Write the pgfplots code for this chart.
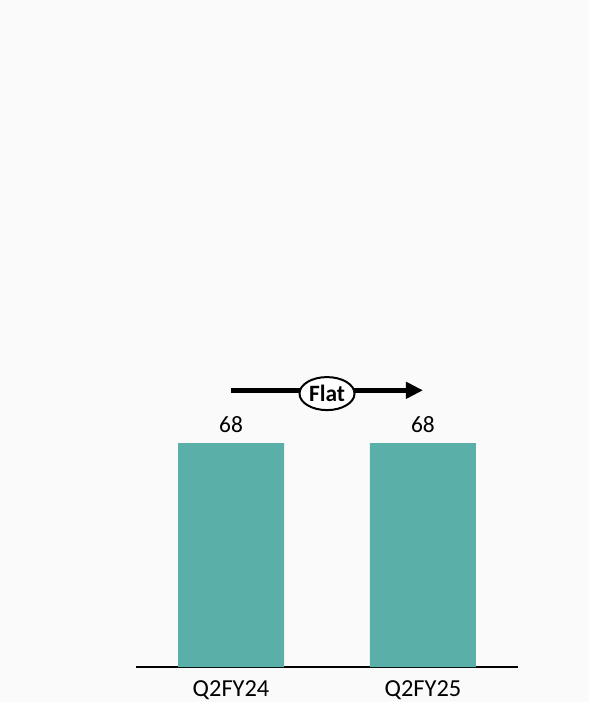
\documentclass[border=0pt]{standalone}
\usepackage{pgfplots}
\pgfplotsset{compat=1.18}
\usepackage{fontspec}
\setmainfont{Carlito}
\usetikzlibrary{arrows.meta,shapes.geometric}

\definecolor{bgcol}{HTML}{FAFAFA}
\definecolor{barcol}{HTML}{5AAFA8}

\begin{document}
\begin{tikzpicture}
    % page background, also fixes the picture size
    \fill[bgcol] (0,0) rectangle (589bp,702bp);
    \begin{axis}[
        at={(136bp,35bp)},
        anchor=south west,
        scale only axis,
        width=382bp,
        height=658.8bp,
        xmin=-0.495, xmax=1.495,
        ymin=0, ymax=200,
        axis x line=bottom,
        axis y line=none,
        x axis line style={-, line width=1.5bp, black},
        xtick=data,
        xticklabels={Q2FY24,Q2FY25},
        major tick length=0pt,
        xticklabel style={inner sep=0pt, anchor=north, yshift=-13bp,
            font=\fontsize{24.5}{28}\selectfont},
        /pgf/number format/assume math mode=true,
        nodes near coords,
        nodes near coords style={inner sep=0pt, anchor=south, yshift=10bp,
            font=\fontsize{23.5}{27}\selectfont, black},
        clip=false,
    ]
    \addplot[ybar, bar width=106bp, fill=barcol, draw=none]
        coordinates {(0,68) (1,68)};

    \draw[line width=5.5bp, -{Triangle[length=17bp,width=16bp]}]
        (axis cs:0,84) -- (axis cs:1,84);
    \node[ellipse, draw, line width=2bp, fill=white, minimum width=55bp,
        minimum height=33bp, inner sep=0pt,
        font=\fontsize{23.5}{27}\selectfont\bfseries] at (axis cs:0.5,83) {Flat};
    \end{axis}
\end{tikzpicture}
\end{document}
